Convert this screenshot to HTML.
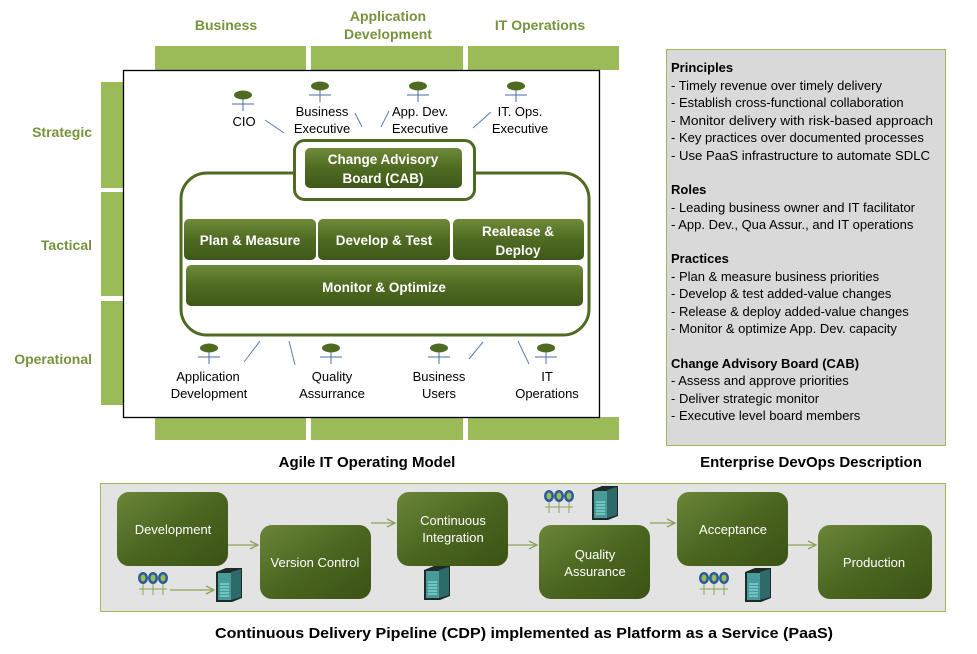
<!DOCTYPE html>
<html><head><meta charset="utf-8"><style>
html,body{margin:0;padding:0;background:#fff}
svg{display:block;font-family:"Liberation Sans",sans-serif}
</style></head><body>
<svg width="977" height="654" viewBox="0 0 977 654" xmlns="http://www.w3.org/2000/svg">
<defs>
<linearGradient id="g" x1="0" y1="0" x2="0" y2="1">
<stop offset="0" stop-color="#6f8a3a"/><stop offset="0.5" stop-color="#4f6b22"/><stop offset="1" stop-color="#3f5818"/>
</linearGradient>
<linearGradient id="gb" x1="0" y1="0" x2="1" y2="1">
<stop offset="0" stop-color="#6b863a"/><stop offset="0.5" stop-color="#4b6620"/><stop offset="1" stop-color="#3b5214"/>
</linearGradient>
<marker id="ar" markerWidth="10" markerHeight="10" refX="9" refY="5" orient="auto" markerUnits="userSpaceOnUse"><path d="M1,1 L9,5 L1,9" fill="none" stroke="#8aa55a" stroke-width="1.3"/></marker>
<g id="actor"><ellipse cx="0" cy="0" rx="9" ry="4.5" fill="#4f6b22"/><path d="M0,4 V16 M-11,9 H11" stroke="#4a6fa5" stroke-width="1"/></g>
<g id="srv"><path d="M0,4 L10,0 L26,0 L26,30 L16,34 L0,34 Z" fill="#1d2a2a"/><rect x="2" y="5" width="13" height="27" fill="#4a9a9a"/><path d="M15,4 L25,1 L25,29 L15,32Z" fill="#2f6a6a"/><path d="M4,16 H13 M4,19 H13 M4,22 H13 M4,25 H13 M4,28 H13" stroke="#9ee" stroke-width="1"/></g>
<g id="ppl"><g fill="#2a5a9a"><ellipse cx="0" cy="0" rx="5" ry="6"/><ellipse cx="10" cy="0" rx="5" ry="6"/><ellipse cx="20" cy="0" rx="5" ry="6"/></g><g fill="#9bbb59"><ellipse cx="0" cy="0" rx="2.5" ry="3.5"/><ellipse cx="10" cy="0" rx="2.5" ry="3.5"/><ellipse cx="20" cy="0" rx="2.5" ry="3.5"/></g><path d="M0,6 V17 M10,6 V17 M20,6 V17 M-4,11 H24" stroke="#8aa55a" stroke-width="1"/></g>
</defs>

<g fill="#77933c" font-weight="bold" font-size="14" text-anchor="middle">
<text x="226" y="30">Business</text>
<text x="388" y="21">Application</text><text x="388" y="39">Development</text>
<text x="540" y="30">IT Operations</text>
<text x="92" y="137" text-anchor="end">Strategic</text>
<text x="92" y="250" text-anchor="end">Tactical</text>
<text x="92" y="364" text-anchor="end">Operational</text>
</g>
<g fill="#9bbb59">
<rect x="155" y="46" width="151" height="24"/><rect x="311" y="46" width="152" height="24"/><rect x="468" y="46" width="151" height="24"/>
<rect x="155" y="417" width="151" height="23"/><rect x="311" y="417" width="152" height="23"/><rect x="468" y="417" width="151" height="23"/>
<rect x="101" y="82" width="25" height="106"/><rect x="101" y="192" width="25" height="104"/><rect x="101" y="301" width="25" height="104"/>
</g>
<rect x="123.5" y="70.5" width="476" height="347" fill="#fff" stroke="#000" stroke-width="1.3"/>

<use href="#actor" x="243" y="95"/><use href="#actor" x="320" y="86"/><use href="#actor" x="418" y="86"/><use href="#actor" x="516" y="86"/>
<use href="#actor" x="209" y="348"/><use href="#actor" x="331" y="348"/><use href="#actor" x="439" y="348"/><use href="#actor" x="546" y="348"/>
<g font-size="13" fill="#000" text-anchor="middle">
<text x="244" y="126">CIO</text>
<text x="322" y="116">Business</text><text x="322" y="133">Executive</text>
<text x="420" y="116">App. Dev.</text><text x="420" y="133">Executive</text>
<text x="520" y="116">IT. Ops.</text><text x="520" y="133">Executive</text>
<text x="208" y="381">Application</text><text x="209" y="398">Development</text>
<text x="332" y="381">Quality</text><text x="332" y="398">Assurrance</text>
<text x="439" y="381">Business</text><text x="439" y="398">Users</text>
<text x="547" y="381">IT</text><text x="547" y="398">Operations</text>
</g>
<g stroke="#5a7fb0" stroke-width="1">
<path d="M265,120 L284,133 M355,113 L362,127 M381,127 L389,111 M473,128 L491,112"/>
<path d="M244,362 L260,341 M289,341 L295,365 M469,359 L483,342 M518,341 L529,364"/>
</g>

<rect x="181" y="173" width="408" height="162" rx="26" fill="#fff" stroke="#4f6b22" stroke-width="3"/>
<rect x="294.5" y="140.5" width="180" height="59" rx="10" fill="#fff" stroke="#4f6b22" stroke-width="3"/>
<g font-weight="bold" font-size="13.5" fill="#fff" text-anchor="middle">
<rect x="305" y="148" width="157" height="40" rx="5" fill="url(#g)"/>
<text x="383" y="164">Change Advisory</text><text x="383" y="183">Board (CAB)</text>
<rect x="184" y="219" width="132" height="41" rx="5" fill="url(#g)"/><text x="250" y="245">Plan &amp; Measure</text>
<rect x="318" y="219" width="132" height="41" rx="5" fill="url(#g)"/><text x="384" y="245">Develop &amp; Test</text>
<rect x="453" y="219" width="131" height="41" rx="5" fill="url(#g)"/><text x="518" y="236">Realease &amp;</text><text x="518" y="255">Deploy</text>
<rect x="186" y="265" width="397" height="41" rx="5" fill="url(#g)"/><text x="384" y="292">Monitor &amp; Optimize</text>
</g>

<g font-weight="bold" font-size="15" fill="#000" text-anchor="middle">
<text x="367" y="467">Agile IT Operating Model</text>
<text x="811" y="467">Enterprise DevOps Description</text>
<text x="524" y="638" textLength="618" lengthAdjust="spacingAndGlyphs">Continuous Delivery Pipeline (CDP) implemented as Platform as a Service (PaaS)</text>
</g>

<rect x="666.5" y="49.5" width="279" height="396" fill="#d9d9d9" stroke="#9bbb59" stroke-width="1"/>
<g font-size="13" fill="#000">
<text x="671" y="72" font-weight="bold">Principles</text>
<text x="671" y="90">- Timely revenue over timely delivery</text>
<text x="671" y="107">- Establish cross-functional  collaboration</text>
<text x="671" y="125" textLength="262" lengthAdjust="spacingAndGlyphs">- Monitor delivery with risk-based approach</text>
<text x="671" y="142">- Key practices over documented processes</text>
<text x="671" y="160" textLength="259" lengthAdjust="spacingAndGlyphs">- Use PaaS infrastructure  to automate SDLC</text>
<text x="671" y="194" font-weight="bold">Roles</text>
<text x="671" y="212">- Leading business owner and IT facilitator</text>
<text x="671" y="229">- App. Dev., Qua  Assur., and IT operations</text>
<text x="671" y="263" font-weight="bold">Practices</text>
<text x="671" y="281">- Plan &amp; measure business priorities</text>
<text x="671" y="298">- Develop &amp; test added-value changes</text>
<text x="671" y="316">- Release &amp; deploy added-value changes</text>
<text x="671" y="333">- Monitor &amp; optimize  App. Dev. capacity</text>
<text x="671" y="368" font-weight="bold">Change Advisory Board (CAB)</text>
<text x="671" y="385">- Assess and approve priorities</text>
<text x="671" y="403">- Deliver strategic monitor</text>
<text x="671" y="420">- Executive level board members</text>
</g>

<rect x="100.5" y="483.5" width="845" height="128" fill="#e3e3e3" stroke="#9bbb59" stroke-width="1"/>
<g stroke="#8aa55a" stroke-width="1.3" fill="none">
<path d="M228,545 L258,545" marker-end="url(#ar)"/>
<path d="M371,523 L395,523" marker-end="url(#ar)"/>
<path d="M508,545 L537,545" marker-end="url(#ar)"/>
<path d="M650,523 L675,523" marker-end="url(#ar)"/>
<path d="M788,545 L816,545" marker-end="url(#ar)"/>
<path d="M170,590 L214,590" marker-end="url(#ar)"/>
</g>
<g font-size="13" fill="#fff" text-anchor="middle">
<rect x="117" y="492" width="111" height="74" rx="12" fill="url(#gb)"/><text x="173" y="534">Development</text>
<rect x="260" y="525" width="111" height="74" rx="12" fill="url(#gb)"/><text x="315" y="567">Version Control</text>
<rect x="397" y="492" width="111" height="74" rx="12" fill="url(#gb)"/><text x="453" y="525">Continuous</text><text x="453" y="542">Integration</text>
<rect x="539" y="525" width="111" height="74" rx="12" fill="url(#gb)"/><text x="595" y="559">Quality</text><text x="595" y="576">Assurance</text>
<rect x="677" y="492" width="111" height="74" rx="12" fill="url(#gb)"/><text x="733" y="534">Acceptance</text>
<rect x="818" y="525" width="114" height="74" rx="12" fill="url(#gb)"/><text x="874" y="567">Production</text>
</g>
<use href="#ppl" x="143" y="578"/><use href="#srv" x="216" y="568"/>
<use href="#srv" x="424" y="566"/>
<use href="#ppl" x="549" y="496"/><use href="#srv" x="592" y="486"/>
<use href="#ppl" x="704" y="578"/><use href="#srv" x="745" y="568"/>
</svg>
</body></html>
